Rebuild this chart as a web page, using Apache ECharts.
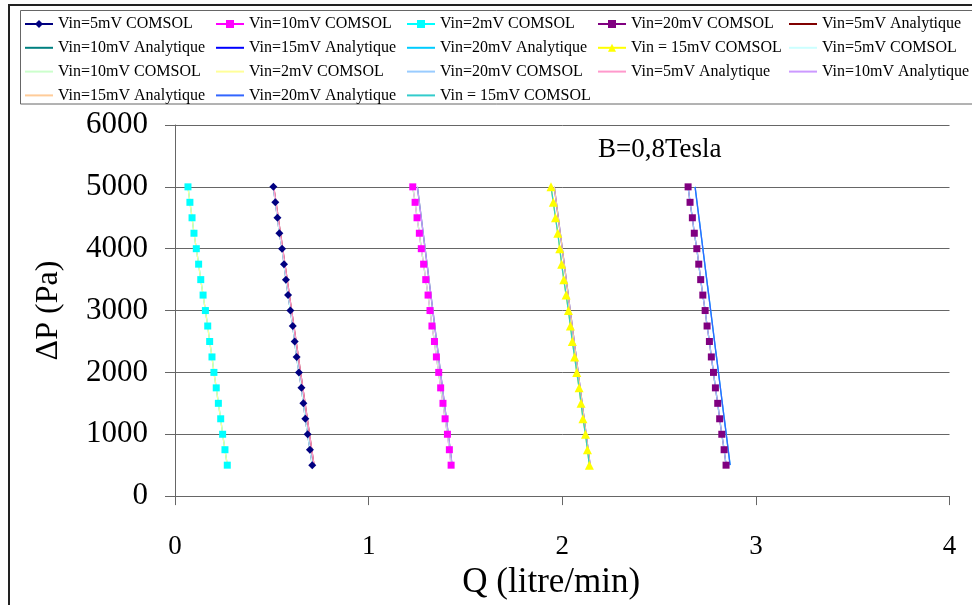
<!DOCTYPE html>
<html>
<head>
<meta charset="utf-8">
<script src="https://cdn.jsdelivr.net/npm/echarts@6/dist/echarts.min.js"></script>
<style>html,body{margin:0;padding:0;background:#fff}#c{width:972px;height:605px}</style>
</head>
<body>
<div id="c"></div>
<script>
// ---- data ----
const dpComsol = [5000,4750,4500,4250,4000,3750,3500,3250,3000,2750,2500,2250,2000,1750,1500,1250,1000,750,500];
const q2mV  = [0.067,0.077,0.088,0.098,0.110,0.122,0.133,0.145,0.157,0.169,0.179,0.191,0.201,0.213,0.224,0.236,0.246,0.258,0.270];
const q5mV  = [0.508,0.518,0.529,0.539,0.553,0.563,0.573,0.584,0.596,0.608,0.618,0.628,0.640,0.653,0.663,0.673,0.685,0.697,0.709];
const q10mV = [1.228,1.240,1.250,1.262,1.272,1.284,1.295,1.307,1.317,1.327,1.340,1.350,1.362,1.372,1.384,1.395,1.407,1.417,1.426];
const q15mV = [1.942,1.954,1.965,1.977,1.987,1.997,2.008,2.020,2.032,2.042,2.052,2.064,2.075,2.087,2.097,2.107,2.120,2.130,2.140];
const q20mV = [2.650,2.660,2.672,2.682,2.695,2.705,2.715,2.726,2.738,2.748,2.760,2.770,2.781,2.791,2.803,2.813,2.824,2.836,2.846];
const dpAnalytic = [5000, 500];
const qA5  = [0.510, 0.718];
const qA10 = [1.252, 1.431];
const qA15 = [1.959, 2.144];
const qA20 = [2.686, 2.867];
const xTicks = [0, 1, 2, 3, 4];
const yTicks = [0, 1000, 2000, 3000, 4000, 5000, 6000];

function pairs(xs, ys) { return xs.map((x, i) => [x, ys[i]]); }

// series list (legend order, row-major)
const Z = '\u200b';
const seriesDefs = [
  {name:'Vin=5mV COMSOL',        q:q5mV,  dp:dpComsol,   color:'#000080', symbol:'diamond',  size:8},
  {name:'Vin=10mV COMSOL',       q:q10mV, dp:dpComsol,   color:'#FF00FF', symbol:'rect',     size:7},
  {name:'Vin=2mV COMSOL',        q:q2mV,  dp:dpComsol,   color:'#00FFFF', symbol:'rect',     size:7},
  {name:'Vin=20mV COMSOL',       q:q20mV, dp:dpComsol,   color:'#800080', symbol:'rect',     size:7},
  {name:'Vin=5mV Analytique',    q:qA5,   dp:dpAnalytic, color:'#800000', symbol:'none'},
  {name:'Vin=10mV Analytique',   q:qA10,  dp:dpAnalytic, color:'#008080', symbol:'none'},
  {name:'Vin=15mV Analytique',   q:qA15,  dp:dpAnalytic, color:'#0000FF', symbol:'none'},
  {name:'Vin=20mV Analytique',   q:qA20,  dp:dpAnalytic, color:'#00CCFF', symbol:'none'},
  {name:'Vin = 15mV COMSOL',     q:q15mV, dp:dpComsol,   color:'#FFFF00', symbol:'triangle', size:9},
  {name:'Vin=5mV COMSOL'+Z,      q:q5mV,  dp:dpComsol,   color:'#CCFFFF', symbol:'none'},
  {name:'Vin=10mV COMSOL'+Z,     q:q10mV, dp:dpComsol,   color:'#CCFFCC', symbol:'none'},
  {name:'Vin=2mV COMSOL'+Z,      q:q2mV,  dp:dpComsol,   color:'#FFFF99', symbol:'none'},
  {name:'Vin=20mV COMSOL'+Z,     q:q20mV, dp:dpComsol,   color:'#99CCFF', symbol:'none'},
  {name:'Vin=5mV Analytique'+Z,  q:qA5,   dp:dpAnalytic, color:'#FF99CC', symbol:'none'},
  {name:'Vin=10mV Analytique'+Z, q:qA10,  dp:dpAnalytic, color:'#CC99FF', symbol:'none'},
  {name:'Vin=15mV Analytique'+Z, q:qA15,  dp:dpAnalytic, color:'#FFCC99', symbol:'none'},
  {name:'Vin=20mV Analytique'+Z, q:qA20,  dp:dpAnalytic, color:'#3366FF', symbol:'none'},
  {name:'Vin = 15mV COMSOL'+Z,   q:q15mV, dp:dpComsol,   color:'#33CCCC', symbol:'none'}
];

const FONT = 'Liberation Serif';
const series = seriesDefs.map(d => ({
  type: 'line',
  name: d.name,
  data: pairs(d.q, d.dp),
  symbol: d.symbol,
  symbolSize: d.size || 0,
  showSymbol: d.symbol !== 'none',
  color: d.color,
  lineStyle: {color: d.color, width: 1.3},
  itemStyle: {color: d.color, borderWidth: 0},
  emphasis: {disabled: true},
  animation: false
}));

// 5 legend columns
const colX = [24, 215, 406, 597, 788];
const legends = colX.map((x, c) => ({
  orient: 'vertical',
  left: x,
  top: 16,
  padding: 0,
  itemWidth: 28,
  itemHeight: 10,
  itemGap: 7.8,
  data: seriesDefs.filter((d, i) => i % 5 === c).map(d =>
    d.symbol === 'none' ? {name: d.name, itemStyle: {opacity: 0}} : {name: d.name}),
  formatter: n => n.replace(/\u200b/g, ''),
  textStyle: {fontFamily: FONT, fontSize: 16, color: '#000', lineHeight: 14},
  lineStyle: {width: 2},
  selectedMode: false
}));

const chart = echarts.init(document.getElementById('c'), null, {renderer: 'canvas'});
chart.setOption({
  backgroundColor: '#fff',
  animation: false,
  legend: legends,
  grid: {left: 175, right: 22.5, top: 125, bottom: 108},
  xAxis: {
    type: 'value', min: xTicks[0], max: xTicks[xTicks.length - 1], interval: 1,
    name: 'Q (litre/min)', nameLocation: 'middle', nameGap: 58,
    nameTextStyle: {fontFamily: FONT, fontSize: 35, color: '#000', padding: [0, 22, 0, 0]},
    axisLine: {lineStyle: {color: '#666', width: 1}},
    axisTick: {show: true, length: 9, lineStyle: {color: '#666'}},
    axisLabel: {fontFamily: FONT, fontSize: 27, color: '#000', margin: 37, lineHeight: 27},
    splitLine: {show: false}
  },
  yAxis: {
    type: 'value', min: yTicks[0], max: yTicks[yTicks.length - 1], interval: 1000,
    name: 'ΔP (Pa)', nameLocation: 'middle', nameGap: 110,
    nameTextStyle: {fontFamily: FONT, fontSize: 32, color: '#000'},
    axisLine: {show: true, lineStyle: {color: '#666', width: 1}},
    axisTick: {show: true, length: 10, lineStyle: {color: '#666'}},
    axisLabel: {fontFamily: FONT, fontSize: 31, color: '#000', margin: 27, formatter: v => String(v)},
    splitLine: {show: true, lineStyle: {color: '#666', width: 1}}
  },
  graphic: [
    {type: 'rect', shape: {x: 9, y: 5, width: 1000, height: 700}, style: {fill: 'none', stroke: '#222', lineWidth: 2}, silent: true, z: -1},
    {type: 'rect', shape: {x: 20.5, y: 10.5, width: 1000, height: 93.5}, style: {fill: 'none', stroke: '#666', lineWidth: 1}, silent: true, z: -1},
    {type: 'text', left: 598, top: 136, style: {text: 'B=0,8Tesla', fontFamily: FONT, fontSize: 27, fill: '#000'}, silent: true}
  ],
  series: series
});
</script>
</body>
</html>
